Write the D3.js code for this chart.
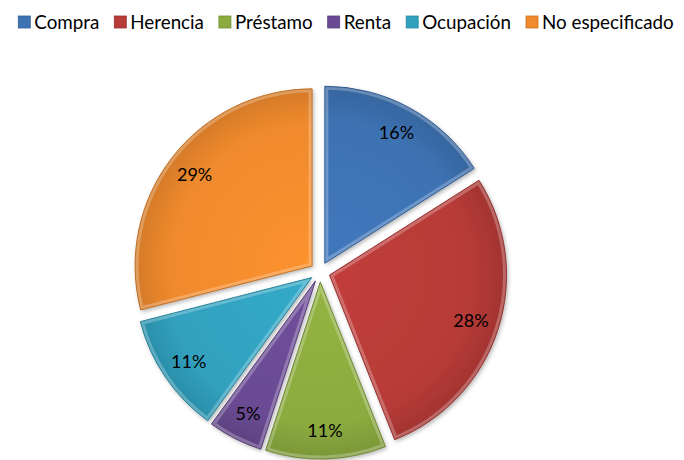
<!DOCTYPE html>
<html>
<head>
<meta charset="utf-8">
<script src="https://cdn.jsdelivr.net/npm/d3@7"></script>
<style>
  body { margin: 0; background: #fff; }
  svg { display: block; font-family: Lato, "Open Sans", sans-serif; }
</style>
</head>
<body>
<div id="chart"></div>
<script>
const categories = ["Compra", "Herencia", "Préstamo", "Renta", "Ocupación", "No especificado"];
const values = [16, 28, 11, 5, 11, 29];
const colors = ["#3d72b3", "#b73b38", "#8bab3f", "#6a4b93", "#31a1bf", "#f08a2d"];

const width = 684, height = 460;
const cx = 320, cy = 272, radius = 177, explode = 10;

const svg = d3.select("#chart").append("svg")
  .attr("width", width)
  .attr("height", height);

const defs = svg.append("defs");

const pie = d3.pie().sort(null).value(d => d);
const arcs = pie(values);
const arc = d3.arc().innerRadius(0).outerRadius(radius);
const labelArc = d3.arc().innerRadius(radius * 0.84).outerRadius(radius * 0.84);

colors.forEach((c, i) => {
  const g = defs.append("radialGradient")
    .attr("id", "grad" + i)
    .attr("gradientUnits", "userSpaceOnUse")
    .attr("cx", 0).attr("cy", 0).attr("r", radius);
  g.append("stop").attr("offset", "0%").attr("stop-color", d3.color(c).brighter(0.15));
  g.append("stop").attr("offset", "80%").attr("stop-color", c);
  g.append("stop").attr("offset", "100%").attr("stop-color", d3.color(c).darker(0.35));
  defs.append("clipPath").attr("id", "clip" + i)
    .append("path").attr("d", arc(arcs[i]));
});

const shadow = defs.append("filter").attr("id", "shadow")
  .attr("x", "-20%").attr("y", "-20%").attr("width", "140%").attr("height", "140%");
shadow.append("feDropShadow")
  .attr("dx", 1.5).attr("dy", 2).attr("stdDeviation", 2)
  .attr("flood-color", "#000").attr("flood-opacity", 0.3);

const pieG = svg.append("g").attr("transform", `translate(${cx},${cy})`);

const slices = pieG.selectAll(".slice")
  .data(arcs)
  .join("g")
  .attr("class", "slice")
  .attr("transform", d => {
    const a = (d.startAngle + d.endAngle) / 2;
    return `translate(${Math.sin(a) * explode},${-Math.cos(a) * explode})`;
  });

slices.append("path")
  .attr("d", arc)
  .attr("fill", (d, i) => `url(#grad${i})`)
  .attr("filter", "url(#shadow)");

// bevel highlight along the slice edges
slices.append("path")
  .attr("d", arc)
  .attr("fill", "none")
  .attr("stroke", "#fff")
  .attr("stroke-opacity", 0.25)
  .attr("stroke-width", 7)
  .attr("clip-path", (d, i) => `url(#clip${i})`);

slices.append("path")
  .attr("d", arc)
  .attr("fill", "none")
  .attr("stroke", (d, i) => d3.color(colors[i]).darker(0.6))
  .attr("stroke-width", 1);

slices.append("text")
  .attr("transform", d => `translate(${labelArc.centroid(d)})`)
  .attr("text-anchor", "middle")
  .attr("dy", "0.35em")
  .attr("font-size", 18)
  .attr("fill", "#000")
  .text(d => d.data + "%");

// legend
const legend = svg.append("g").attr("class", "legend");
let x = 0;
categories.forEach((name, i) => {
  const item = legend.append("g").attr("transform", `translate(${x},0)`);
  item.append("rect")
    .attr("x", 0).attr("y", -6)
    .attr("width", 12).attr("height", 12)
    .attr("fill", colors[i])
    .attr("stroke", d3.color(colors[i]).darker(0.5))
    .attr("stroke-width", 0.8);
  const t = item.append("text")
    .attr("x", 16)
    .attr("dy", "0.35em")
    .attr("font-size", 18.8)
    .attr("fill", "#000")
    .text(name);
  x += 16 + t.node().getComputedTextLength() + 15;
});
const legendWidth = x - 15;
legend.attr("transform", `translate(${(10 + 682 - legendWidth) / 2},22)`);
</script>
</body>
</html>
